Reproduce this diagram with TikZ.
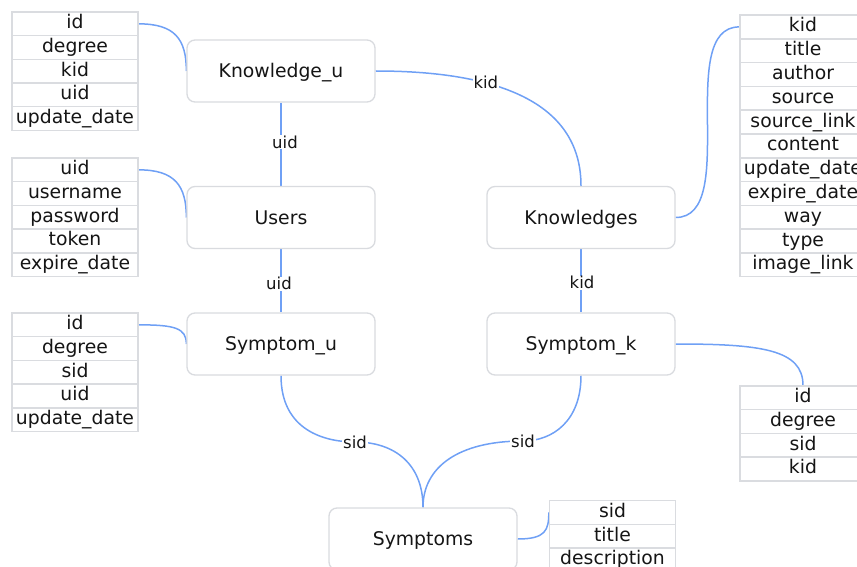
\documentclass[tikz,border=0pt]{standalone}
\usepackage{fontspec}
\setmainfont{DejaVu Sans}
\usetikzlibrary{backgrounds}
\definecolor{linkblue}{HTML}{6FA0F5}
\definecolor{boxgray}{HTML}{D9DBDF}
\definecolor{cellgray}{HTML}{DADCE0}
\definecolor{inkc}{HTML}{151515}
\tikzset{
  box/.style={draw=boxgray, line width=1.3pt, fill=white, rounded corners=8pt,
    minimum width=188pt, minimum height=62pt, inner sep=0pt,
    text height=13.7pt, text depth=0pt, text=inkc,
    font=\fontsize{18.8pt}{22pt}\selectfont},
  cell/.style={draw=cellgray, line width=1.4pt, fill=white,
    minimum width=126pt, minimum height=23.7pt, inner sep=0pt,
    text height=14pt, text depth=4pt, text=inkc,
    font=\fontsize{18.8pt}{22pt}\selectfont},
  link/.style={draw=linkblue, line width=1.5pt},
  lbl/.style={fill=white, inner sep=1pt, text=inkc, text height=12pt, text depth=0pt,
    font=\fontsize{16.5pt}{19pt}\selectfont}
}
\begin{document}
\begin{tikzpicture}[x=1pt, y=-1pt]
\useasboundingbox (0,0) rectangle (857,567);
\clip (0,0) rectangle (857,567);
% entity boxes
\node[box] (ku) at (281,71) {Knowledge\_u};
\node[box] (us) at (281,217.5) {Users};
\node[box] (su) at (281,344) {Symptom\_u};
\node[box] (kn) at (581,217.5) {Knowledges};
\node[box] (sk) at (581,344) {Symptom\_k};
\node[box] (sy) at (423,539) {Symptoms};
% tables
\foreach \t [count=\i] in {id,degree,kid,uid,update\_date}
  \node[cell] (kut\i) at (75,{12+23.7*(\i-0.5)}) {\t};
\foreach \t [count=\i] in {uid,username,password,token,expire\_date}
  \node[cell] (ust\i) at (75,{158+23.7*(\i-0.5)}) {\t};
\foreach \t [count=\i] in {id,degree,sid,uid,update\_date}
  \node[cell] (sut\i) at (75,{313+23.7*(\i-0.5)}) {\t};
\foreach \t [count=\i] in {kid,title,author,source,source\_link,content,update\_date,expire\_date,way,type,image\_link}
  \node[cell] (knt\i) at (803,{15+23.8*(\i-0.5)}) {\t};
\foreach \t [count=\i] in {id,degree,sid,kid}
  \node[cell] (skt\i) at (803,{386+23.7*(\i-0.5)}) {\t};
\foreach \t [count=\i] in {sid,title,description}
  \node[cell] (syt\i) at (612.5,{500.5+23.7*(\i-0.5)}) {\t};
\coordinate (m1) at (355,442);
\coordinate (m2) at (523,441);
% connectors
\begin{pgfonlayer}{background}
\path[link] (kut1.east) .. controls +(36,0) and +(0,-32) .. (ku.west);
\path[link] (ust1.east) .. controls +(36,0) and +(0,-32) .. (us.west);
\path[link] (sut1.east) .. controls +(36,0) and +(0,-16) .. (su.west);
\path[link] (ku.east) .. controls +(100,0) and +(0,-94) .. (kn.north)
  node[lbl, pos=0.38] {kid};
\path[link] (ku.south) -- (us.north) node[lbl, midway, xshift=4pt, yshift=2pt] {uid};
\path[link] (us.south) -- (su.north) node[lbl, midway, xshift=-2pt, yshift=-3pt] {uid};
\path[link] (kn.south) -- (sk.north) node[lbl, midway, xshift=1pt, yshift=-2pt] {kid};
\path[link] (kn.east) .. controls +(65,0) and +(-65,0) .. (knt1.west);
\path[link] (sk.east) .. controls +(85,0) and +(0,-36) .. (skt1.north);
\path[link] (su.south) .. controls +(0,55) and +(-30,0) .. (m1)
  .. controls +(40,0) and +(0,-43) .. (sy.north);
\path[link] (sk.south) .. controls +(0,45) and +(30,0) .. (m2)
  .. controls +(-65,0) and +(0,-40) .. (sy.north);
\path[link] (sy.east) .. controls +(28,0) and +(0,18) .. (syt1.west);
\node[lbl] at (m1) {sid};
\node[lbl] at (m2) {sid};
\end{pgfonlayer}
\end{tikzpicture}
\end{document}
